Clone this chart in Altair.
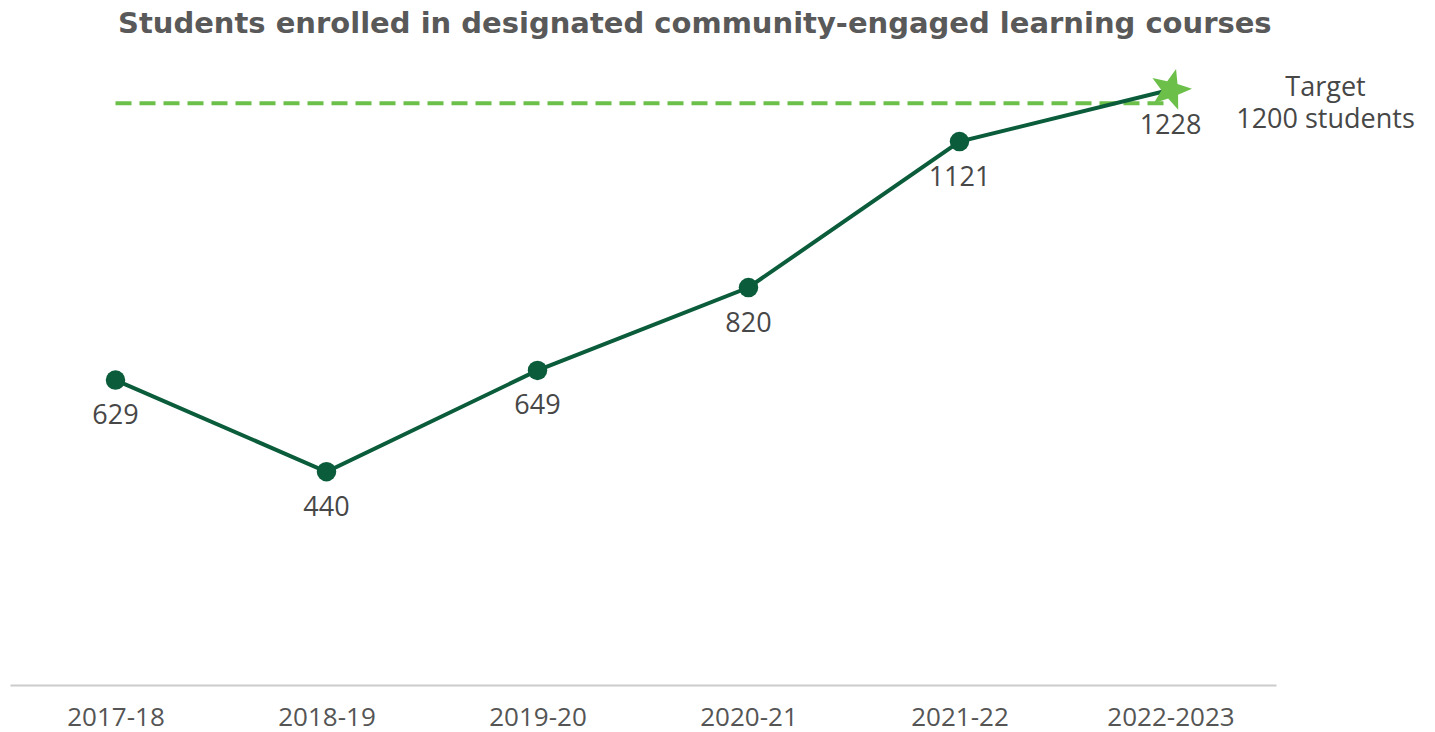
import math
import altair as alt
import pandas as pd

years = ["2017-18", "2018-19", "2019-20", "2020-21", "2021-22", "2022-2023"]
students = [629, 440, 649, 820, 1121, 1228]
target_value = 1200
target_label = "Target\n1200 students"
title_text = "Students enrolled in designated community-engaged learning courses"

df = pd.DataFrame({"year": years, "students": students})
df["label"] = df["students"].astype(str)
last = df.iloc[[-1]]
target_df = pd.DataFrame({"year": [years[0], years[-1]], "students": [target_value, target_value]})
tlabel_df = pd.DataFrame({"year": [years[-1]], "students": [target_value], "txt": [target_label]})

dark = "#0a5c3b"
light = "#6cc04a"
txt_color = "#474747"

# five-pointed star symbol path in the unit box, slightly tilted
pts_path = []
for i in range(10):
    r = 1.0 if i % 2 == 0 else 0.42
    a = math.radians(-90 + 15 + i * 36)
    pts_path.append(f"{r * math.cos(a):.3f},{r * math.sin(a):.3f}")
star_path = "M" + " L".join(pts_path) + " Z"

xscale = alt.Scale(domain=years, type="point", padding=0.5)
yscale = alt.Scale(domain=[0, 1310])

x = alt.X("year:N", scale=xscale, title=None,
          axis=alt.Axis(labelAngle=0, ticks=False, grid=False, domainColor="#cccccc",
                        domainWidth=2, labelFont="Open Sans", labelFontSize=26,
                        labelColor="#555555", labelPadding=19))
y = alt.Y("students:Q", scale=yscale, axis=None)

target = alt.Chart(target_df).mark_line(color=light, strokeWidth=4, strokeDash=[16, 8]).encode(x=x, y=y)
line = alt.Chart(df).mark_line(color=dark, strokeWidth=4).encode(x=x, y=y)
pts = alt.Chart(df.iloc[:-1]).mark_circle(color=dark, size=380, opacity=1).encode(x=x, y=y)
star = alt.Chart(last).mark_point(shape=star_path, filled=True, color=light, size=1850,
                                  opacity=1, strokeWidth=0).encode(x=x, y=y)
labels = alt.Chart(df).mark_text(font="Open Sans", fontSize=27, color=txt_color, dy=36,
                                 baseline="middle").encode(x=x, y=y, text="label:N")
tlab = alt.Chart(tlabel_df).mark_text(font="Open Sans", fontSize=27, color=txt_color, dx=155, dy=-15,
                                      lineHeight=32, lineBreak="\n", align="center",
                                      baseline="middle").encode(x=x, y=y, text="txt:N")

chart = alt.layer(target, line, pts, star, labels, tlab).properties(
    width=1266, height=635,
    title=alt.TitleParams(title_text, anchor="start", dx=108, font="DejaVu Sans", fontSize=29,
                          fontWeight="bold", color="#595959", offset=11),
    padding={"top": 2, "left": 2, "right": 2, "bottom": 2},
).configure_view(strokeWidth=0)

chart.save("out.html", embed_options={"renderer": "svg", "actions": False})
